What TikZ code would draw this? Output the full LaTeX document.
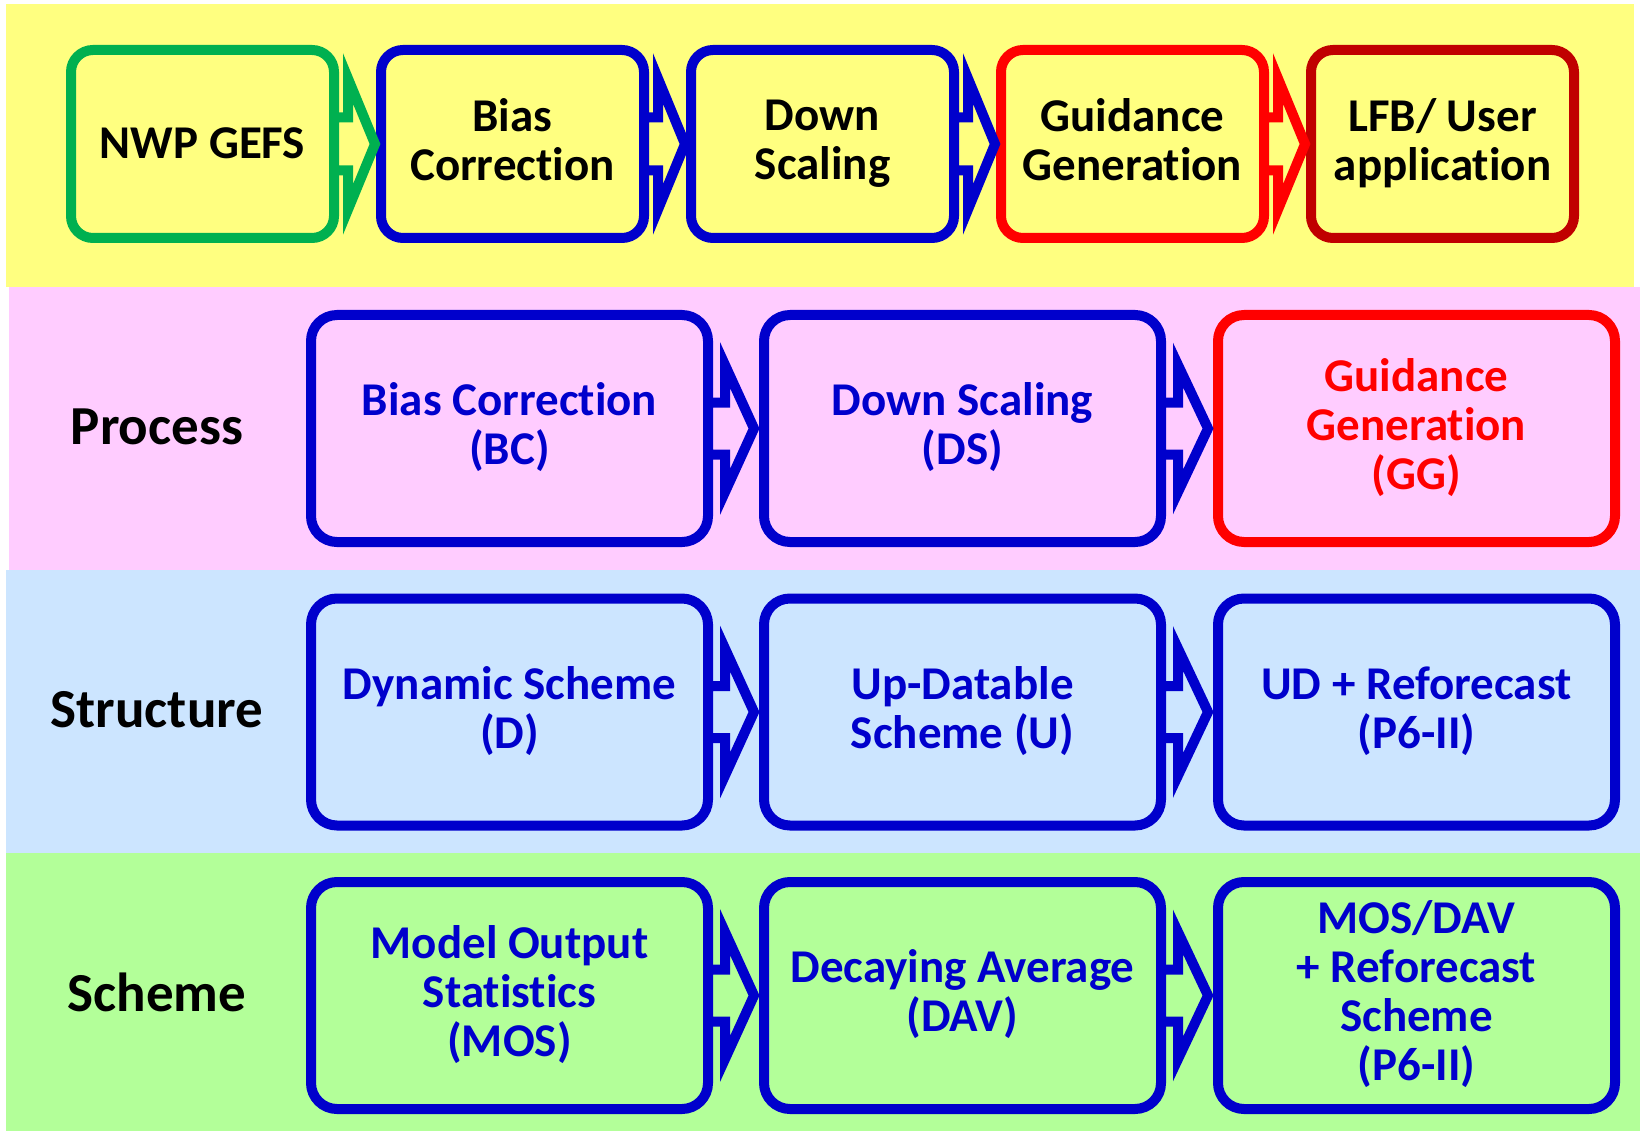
\documentclass[tikz,border=0pt]{standalone}
\usepackage{fontspec}
\setmainfont{Carlito}[Ligatures=NoCommon]
\usetikzlibrary{calc}
\definecolor{ybg}{RGB}{255,255,128}
\definecolor{pbg}{RGB}{255,204,255}
\definecolor{bbg}{RGB}{204,229,255}
\definecolor{gbg}{RGB}{179,255,153}
\definecolor{cblue}{RGB}{0,0,204}
\definecolor{cgreen}{RGB}{0,176,80}
\definecolor{cred}{RGB}{255,0,0}
\definecolor{cdred}{RGB}{192,0,0}
\newcommand{\boxstrut}{\rule[-9pt]{0pt}{47pt}}
\newcommand{\labstrut}{\rule[-13pt]{0pt}{57pt}}
\tikzset{
  box/.style={draw, line width=10pt, outer sep=0pt, inner sep=0pt, align=center,
    font=\fontsize{47}{49}\selectfont\bfseries,
    execute at begin node=\boxstrut, execute at end node=\boxstrut},
  topbox/.style={box, rounded corners=22pt, minimum width=263pt, minimum height=188pt, fill=ybg, text=black},
  rowbox/.style={box, rounded corners=26pt, minimum width=397pt, minimum height=227pt, text=cblue},
  rowlabel/.style={font=\fontsize{55}{60}\selectfont\bfseries, text=black, inner sep=0pt,
    execute at begin node=\labstrut},
  blockarr/.style={line width=10pt, line join=miter, miter limit=20},
}
% #1 colour, #2 fill, #3 from, #4 to, #5 stem half, #6 head half, #7 head base offset, #8 tip back
\newcommand{\flowarr}[8]{%
  \draw[blockarr, draw=#1, fill=#2] let \p1=(#3.east), \p2=(#4.west) in
    (\x1,{\y1+#5pt}) -- ({\x1+#7pt},{\y1+#5pt}) -- ({\x1+#7pt},{\y1+#6pt})
    -- ({\x2-#8pt},\y1) -- ({\x1+#7pt},{\y1-#6pt}) -- ({\x1+#7pt},{\y1-#5pt})
    -- (\x1,{\y1-#5pt}) -- cycle;}
\begin{document}
\begin{tikzpicture}[x={(1pt,0)}, y={(0,-1pt)}]
\useasboundingbox (0,0) rectangle (1640,1131);
% bands
\fill[ybg] (6,4) rectangle (1634,287);
\fill[pbg] (9,287) rectangle (1640,570);
\fill[bbg] (6,570) rectangle (1640,853);
\fill[gbg] (6,853) rectangle (1640,1131);
% top row
\node[topbox, draw=cgreen] (nwp) at (202.5,144) {NWP GEFS};
\node[topbox, draw=cblue] (bias) at (512.5,144) {Bias\\Correction};
\node[topbox, draw=cblue] (down) at (822.5,144) {Down\\Scaling};
\node[topbox, draw=cred] (guid) at (1132.5,144) {Guidance\\Generation};
\node[topbox, draw=cdred] (lfb) at (1442.5,144) {LFB/ User\\application};
\flowarr{cgreen}{ybg}{nwp}{bias}{26.5}{65.5}{14}{6}
\flowarr{cblue}{ybg}{bias}{down}{26.5}{65.5}{14}{6}
\flowarr{cblue}{ybg}{down}{guid}{26.5}{65.5}{14}{6}
\flowarr{cred}{ybg}{guid}{lfb}{26.5}{65.5}{14}{6}
% process row
\node[rowlabel] (lproc) at (157,428.5) {Process};
\node[rowbox, draw=cblue, fill=pbg] (bc) at (509.5,428.5) {Bias Correction\\(BC)};
\node[rowbox, draw=cblue, fill=pbg] (ds) at (962.5,428.5) {Down Scaling\\(DS)};
\node[rowbox, draw=cred, fill=pbg, text=cred] (gg) at (1416.5,428.5) {Guidance\\Generation\\(GG)};
\flowarr{cblue}{pbg}{bc}{ds}{26}{63.5}{17}{10}
\flowarr{cblue}{pbg}{ds}{gg}{26}{63.5}{17}{10}
% structure row
\node[rowlabel] (lstruct) at (157,712) {Structure};
\node[rowbox, draw=cblue, fill=bbg] (dyn) at (509.5,712) {Dynamic Scheme\\(D)};
\node[rowbox, draw=cblue, fill=bbg] (upd) at (962.5,712) {Up-Datable\\Scheme (U)};
\node[rowbox, draw=cblue, fill=bbg] (udr) at (1416.5,712) {UD + Reforecast\\(P6-II)};
\flowarr{cblue}{bbg}{dyn}{upd}{26}{63.5}{17}{10}
\flowarr{cblue}{bbg}{upd}{udr}{26}{63.5}{17}{10}
% scheme row
\node[rowlabel] (lscheme) at (157,995.5) {Scheme};
\node[rowbox, draw=cblue, fill=gbg] (mos) at (509.5,995.5) {Model Output\\Statistics\\(MOS)};
\node[rowbox, draw=cblue, fill=gbg] (dav) at (962.5,995.5) {Decaying Average\\(DAV)};
\node[rowbox, draw=cblue, fill=gbg] (mdr) at (1416.5,995.5) {MOS/DAV\\+ Reforecast\\Scheme\\(P6-II)};
\flowarr{cblue}{gbg}{mos}{dav}{26}{63.5}{17}{10}
\flowarr{cblue}{gbg}{dav}{mdr}{26}{63.5}{17}{10}
\end{tikzpicture}
\end{document}
